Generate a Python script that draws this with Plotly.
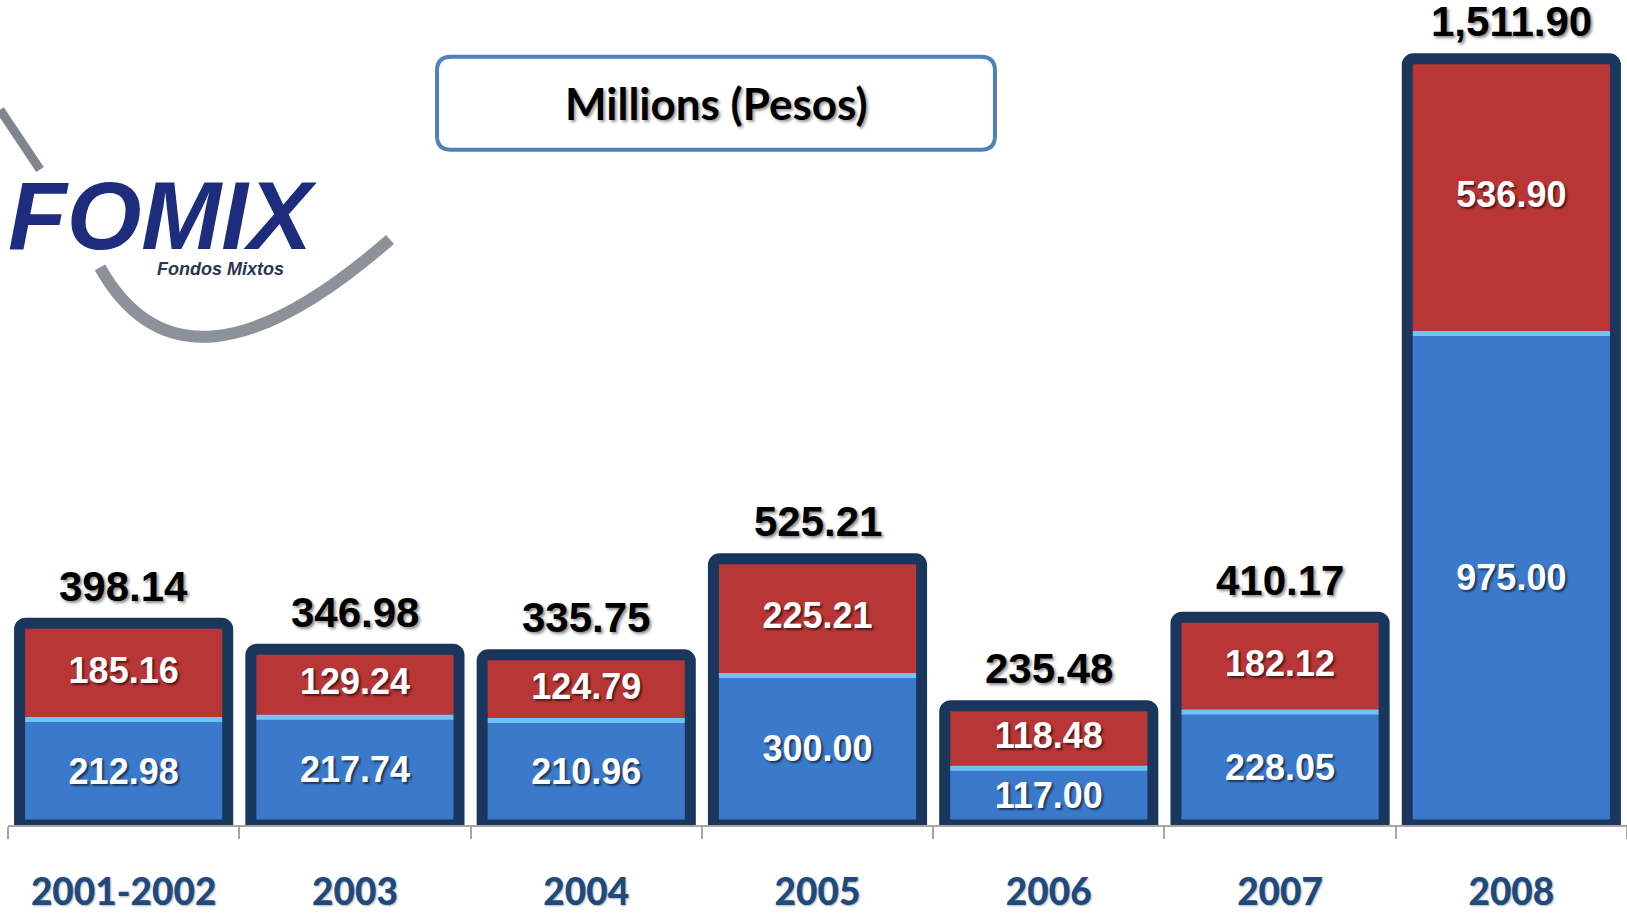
import plotly.graph_objects as go

categories = ["2001-2002", "2003", "2004", "2005", "2006", "2007", "2008"]
blue_vals = [212.98, 217.74, 210.96, 300.00, 117.00, 228.05, 975.00]
red_vals = [185.16, 129.24, 124.79, 225.21, 118.48, 182.12, 536.90]
totals = [398.14, 346.98, 335.75, 525.21, 235.48, 410.17, 1511.90]
title_text = "Millions (Pesos)"

W, H = 1627, 913
ML, MR, MT, MB = 8, 0, 0, 86
PW, PH = W - ML - MR, H - MT - MB


def pp(x, y):
    return (x - ML) / PW, (H - MB - y) / PH


def fmt(v):
    return f"{v:,.2f}"


lab_font = dict(family="Liberation Sans", size=36, color="white", weight="bold",
                shadow="2px 2px 2px rgba(0,0,0,0.55)")

fig = go.Figure()
fig.add_trace(go.Bar(
    x=categories, y=blue_vals,
    marker=dict(color="#3B79CB", line=dict(color="#6EC3F8", width=10)),
    text=[fmt(v) for v in blue_vals], textposition="inside",
    insidetextanchor="middle", textangle=0, constraintext="none",
    textfont=lab_font, cliponaxis=False, hoverinfo="skip",
))
fig.add_trace(go.Bar(
    x=categories, y=red_vals, base=blue_vals,
    marker=dict(color="#B83636", line=dict(width=0)),
    text=[fmt(v) for v in red_vals], textposition="inside",
    insidetextanchor="middle", textangle=0, constraintext="none",
    textfont=lab_font, cliponaxis=False, hoverinfo="skip",
))
fig.add_trace(go.Bar(
    x=categories, y=totals,
    marker=dict(color="rgba(0,0,0,0)", line=dict(color="#1B365D", width=11),
                cornerradius=6),
    cliponaxis=False, hoverinfo="skip",
))

annotations = []
for i, t in enumerate(totals):
    annotations.append(dict(
        x=i, y=t, xref="x", yref="y", text=fmt(t), showarrow=False,
        yshift=37, yanchor="middle", xanchor="center",
        font=dict(family="Liberation Sans", size=42, color="black", weight="bold",
                  shadow="2px 2px 3px rgba(0,0,0,0.45)"),
    ))

# Title box text
tx, ty = pp(716, 103)
annotations.append(dict(
    x=tx, y=ty, xref="paper", yref="paper", text=title_text, showarrow=False,
    xanchor="center", yanchor="middle",
    font=dict(family="Lato", size=44, color="black", weight="bold",
              shadow="2px 2px 3px rgba(0,0,0,0.4)"),
))
# Logo texts
lx, ly = pp(162, 216)
annotations.append(dict(
    x=lx, y=ly, xref="paper", yref="paper", text="<b><i>FOMIX</i></b>",
    showarrow=False, xanchor="center", yanchor="middle",
    font=dict(family="Liberation Sans", size=96, color="#1D2C7C"),
))
fx, fy = pp(220, 270)
annotations.append(dict(
    x=fx, y=fy, xref="paper", yref="paper", text="<b><i>Fondos Mixtos</i></b>",
    showarrow=False, xanchor="center", yanchor="middle",
    font=dict(family="Liberation Sans", size=18, color="#2A3650"),
))


def path_from(cmds):
    out = []
    for cmd, pts in cmds:
        coords = " ".join("%.5f,%.5f" % pp(x, y) for x, y in pts)
        out.append(f"{cmd} {coords}")
    return " ".join(out)


shapes = []
# Rounded title box
x0, y0, x1, y1, r = 437, 57, 995, 150, 14
box = path_from([
    ("M", [(x0 + r, y0)]), ("L", [(x1 - r, y0)]), ("Q", [(x1, y0), (x1, y0 + r)]),
    ("L", [(x1, y1 - r)]), ("Q", [(x1, y1), (x1 - r, y1)]),
    ("L", [(x0 + r, y1)]), ("Q", [(x0, y1), (x0, y1 - r)]),
    ("L", [(x0, y0 + r)]), ("Q", [(x0, y0), (x0 + r, y0)]),
]) + " Z"
shapes.append(dict(type="path", xref="paper", yref="paper", path=box,
                   line=dict(color="#4F81BD", width=4), fillcolor="white", layer="below"))
# Logo swooshes
shapes.append(dict(type="path", xref="paper", yref="paper",
                   path=path_from([("M", [(0, 110)]), ("L", [(40, 170)])]),
                   line=dict(color="#80858F", width=9), layer="below"))
shapes.append(dict(type="path", xref="paper", yref="paper",
                   path=path_from([("M", [(100, 268)]), ("Q", [(185, 420), (390, 240)])]),
                   line=dict(color="#8C919A", width=12), layer="below"))

fig.update_layout(
    width=W, height=H, barmode="overlay", bargap=0.1, showlegend=False,
    margin=dict(l=ML, r=MR, t=MT, b=MB),
    paper_bgcolor="white", plot_bgcolor="white",
    annotations=annotations, shapes=shapes,
    xaxis=dict(type="category", range=[-0.5, len(categories) - 0.5],
               tickson="boundaries", ticks="outside", ticklen=12,
               tickcolor="#A6A6A6", tickwidth=1.5, showline=True, linecolor="#A6A6A6",
               linewidth=1.5, showgrid=False, layer="below traces",
               ticklabelstandoff=34,
               tickfont=dict(family="Lato", size=37, color="#1F4A7E", weight=900,
                             shadow="1px 1px 2px rgba(0,0,0,0.3)")),
    yaxis=dict(visible=False, range=[0, PH / 0.508], showgrid=False, zeroline=False),
)

fig.write_html("out.html")
